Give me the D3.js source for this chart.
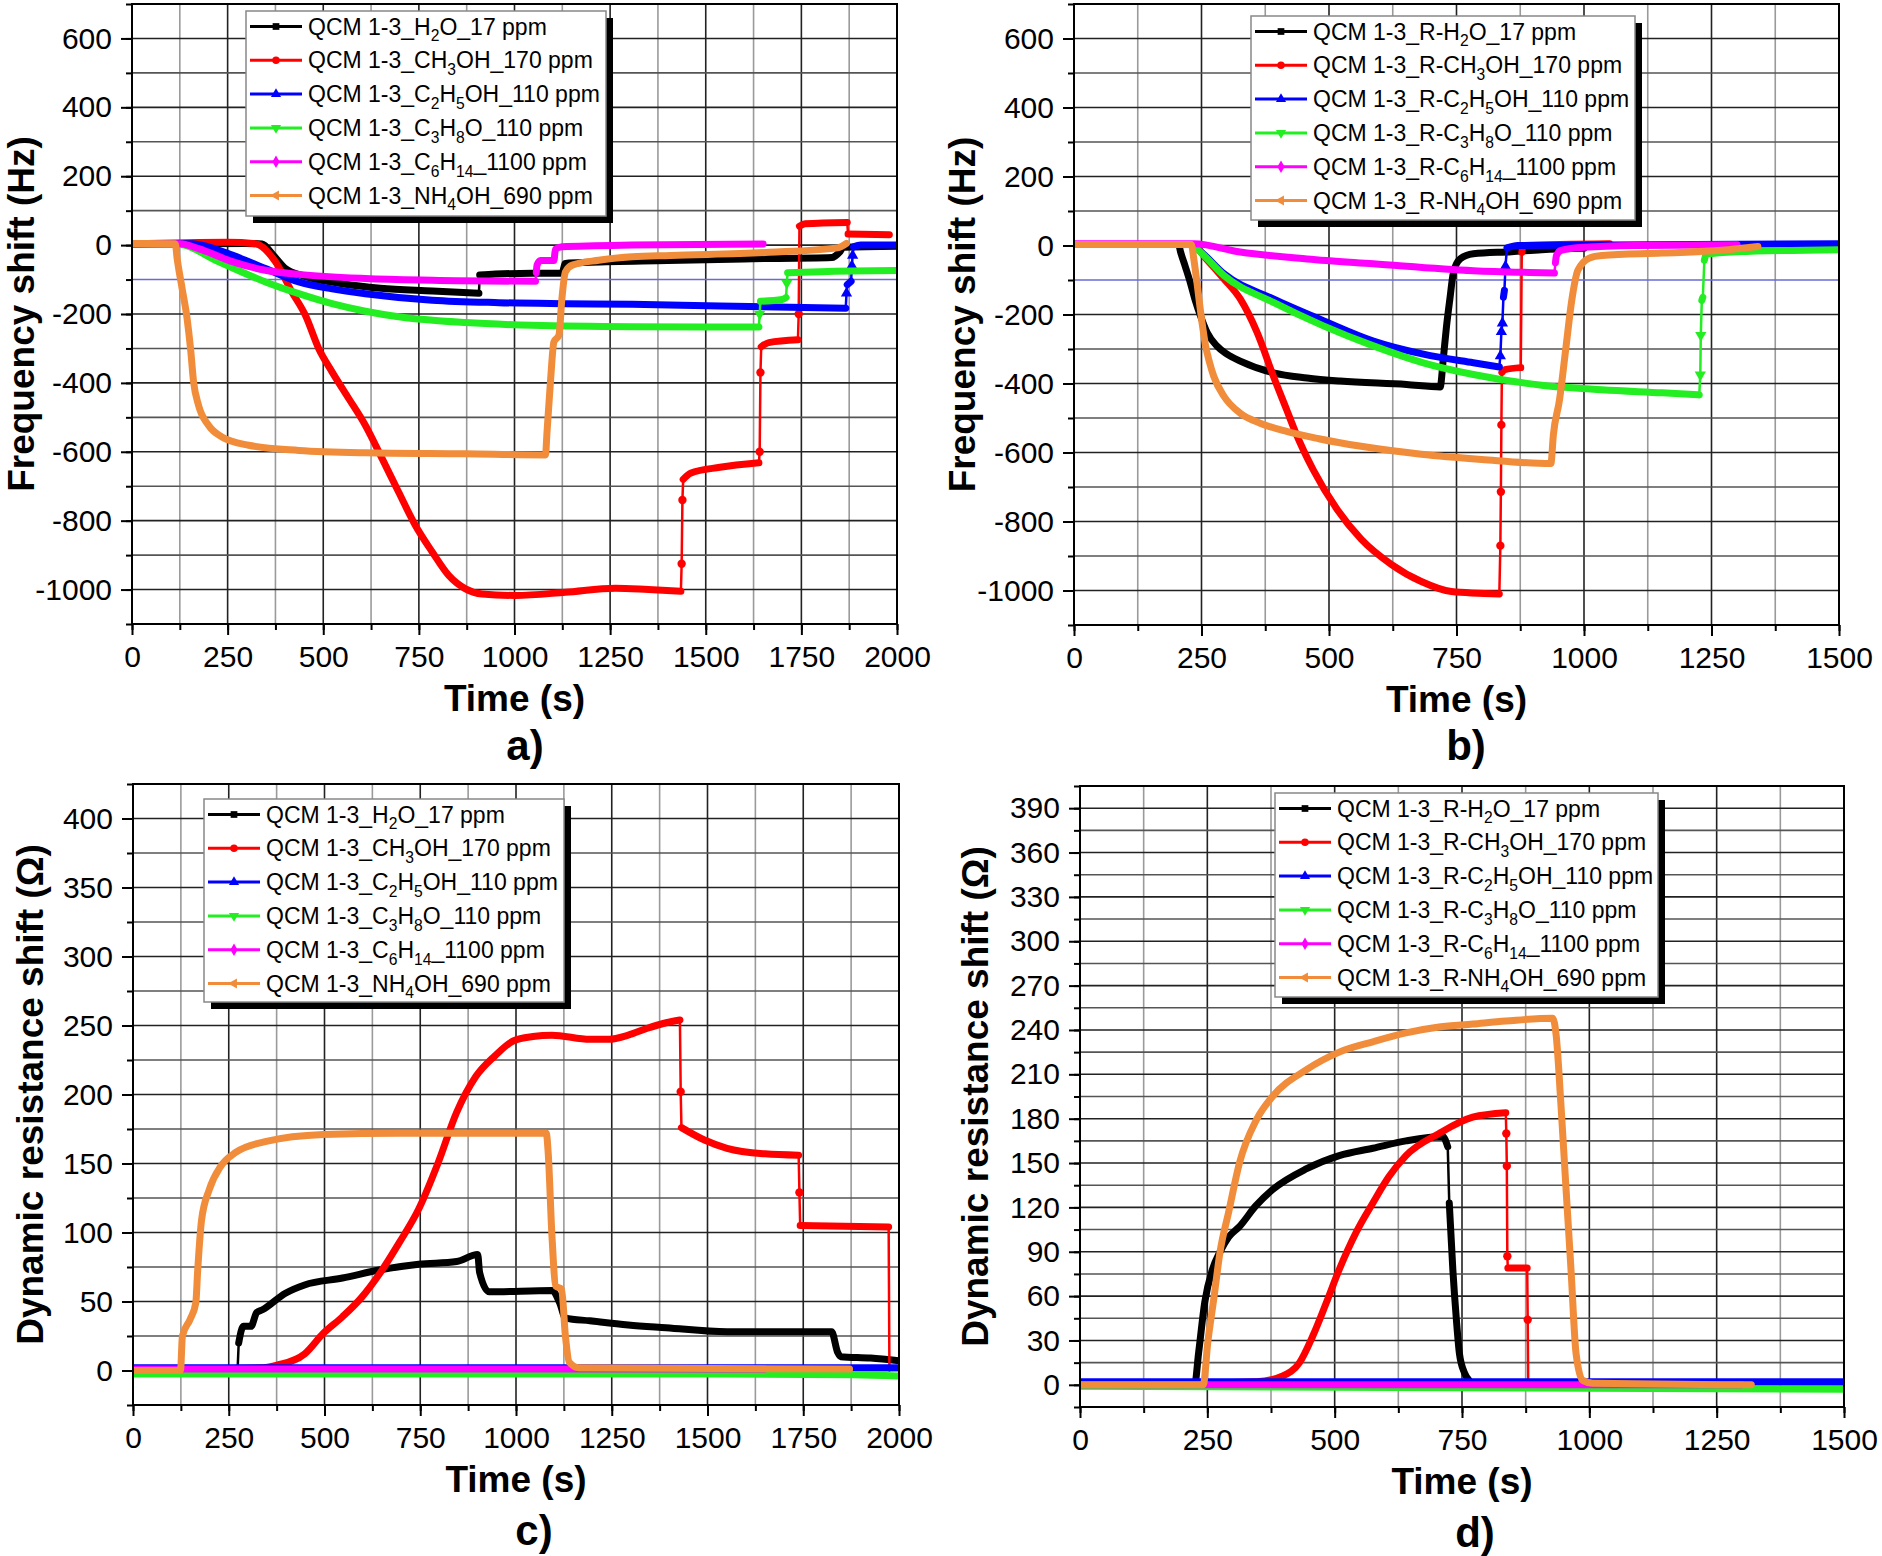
<!DOCTYPE html>
<html>
<head>
<meta charset="utf-8">
<script src="https://cdn.jsdelivr.net/npm/d3@7"></script>
<style>
  body { margin: 0; background: #fff; }
  text { font-family: Arial, "Liberation Sans", sans-serif; }
</style>
</head>
<body>
<svg id="chart" width="1882" height="1556"></svg>
<script>
// ---------- data: [time (s), value] ----------
// a) frequency shift, QCM 1-3
const aH2O = [[0,3],[300,5],[340,3],[370,-30],[401,-68],[450,-90],[550,-112],[650,-125],[785,-133],[907,-140],[909,-87],[950,-84],[1046,-82],[1124,-82],[1133,-53],[1200,-50],[1400,-45],[1600,-40],[1830,-36],[1850,-20],[1860,-6],[2000,-3]];
const aCH3OH = [[0,3],[250,8],[323,4],[375,-48],[418,-136],[453,-203],[488,-300],[523,-368],[567,-446],[610,-523],[654,-620],[697,-717],[741,-814],[785,-891],[828,-959],[872,-998],[915,-1013],[1002,-1017],[1133,-1008],[1264,-996],[1350,-1000],[1435,-1005],[1437,-925],[1439,-740],[1441,-680],[1460,-662],[1537,-645],[1639,-632],[1641,-600],[1643,-370],[1645,-295],[1665,-283],[1741,-275],[1743,-200],[1745,55],[1760,62],[1870,66],[1872,32],[1980,30]];
const aC2H5OH = [[0,3],[157,4],[200,-5],[262,-29],[349,-68],[436,-107],[523,-127],[610,-141],[785,-160],[959,-167],[1133,-170],[1308,-172],[1537,-177],[1866,-183],[1868,-140],[1870,-115],[1880,-105],[1882,-60],[1884,-30],[1886,-5],[1905,0],[2000,0]];
const aC3H8O = [[0,3],[126,2],[218,-44],[349,-107],[436,-141],[523,-170],[610,-192],[697,-208],[872,-225],[1046,-233],[1308,-237],[1639,-238],[1641,-200],[1643,-163],[1700,-158],[1710,-152],[1712,-110],[1714,-80],[1800,-77],[2000,-74]];
const aC6H14 = [[0,5],[126,4],[174,-10],[262,-48],[349,-73],[436,-85],[610,-97],[785,-102],[1055,-105],[1057,-80],[1059,-58],[1068,-45],[1103,-45],[1107,-12],[1124,-5],[1308,0],[1650,3]];
const aNH4OH = [[0,5],[113,4],[118,-39],[131,-126],[144,-213],[153,-300],[161,-397],[174,-465],[200,-523],[235,-557],[305,-581],[436,-596],[610,-603],[872,-606],[1081,-609],[1085,-543],[1094,-397],[1103,-281],[1116,-262],[1124,-155],[1133,-78],[1151,-58],[1220,-44],[1308,-34],[1409,-30],[1665,-21],[1845,-8],[1868,5]];

// b) frequency shift, QCM 1-3 R
const bH2O = [[0,3],[205,3],[209,-19],[218,-60],[228,-107],[238,-160],[248,-204],[261,-252],[280,-291],[300,-315],[326,-335],[391,-369],[457,-384],[522,-393],[652,-403],[718,-410],[724,-330],[730,-240],[737,-155],[744,-78],[757,-39],[783,-24],[858,-18],[917,-12],[1000,-8]];
const bCH3OH = [[0,3],[232,3],[260,-40],[294,-97],[326,-155],[359,-252],[391,-379],[417,-476],[434,-540],[469,-650],[516,-765],[563,-851],[622,-924],[681,-974],[740,-1003],[834,-1010],[836,-870],[837,-714],[838,-520],[839,-368],[845,-360],[876,-354],[878,-20],[881,0],[1050,5]];
const bC2H5OH = [[0,3],[230,3],[248,-17],[294,-82],[391,-155],[489,-218],[587,-277],[685,-315],[783,-340],[834,-352],[836,-320],[838,-250],[840,-225],[842,-150],[844,-130],[846,-60],[849,-7],[870,0],[1500,5]];
const bC3H8O = [[0,3],[230,3],[248,-19],[294,-87],[391,-165],[489,-233],[587,-291],[685,-340],[783,-374],[917,-405],[1035,-418],[1153,-427],[1226,-433],[1228,-375],[1229,-260],[1231,-159],[1233,-150],[1236,-43],[1240,-25],[1300,-18],[1500,-12]];
const bC6H14 = [[0,5],[235,5],[326,-19],[457,-39],[587,-53],[783,-73],[917,-79],[942,-80],[944,-50],[946,-29],[955,-14],[1000,-5],[1100,0],[1300,2]];
const bNH4OH = [[0,3],[230,3],[235,-40],[241,-107],[251,-223],[258,-291],[266,-340],[274,-379],[294,-437],[326,-486],[365,-515],[417,-539],[480,-560],[563,-582],[681,-605],[799,-620],[935,-632],[940,-548],[952,-447],[964,-303],[976,-159],[988,-72],[1011,-36],[1035,-29],[1153,-22],[1270,-14],[1341,-3]];

// c) dynamic resistance shift, QCM 1-3
const cH2O = [[0,0],[273,0],[276,20],[288,32],[308,32],[323,42],[338,44],[398,56],[448,62],[547,67],[646,73],[746,77],[845,79],[900,84],[905,71],[930,57],[1094,58],[1114,49],[1129,38],[1193,36],[1293,33],[1392,31],[1551,28],[1824,28],[1840,13],[1848,10],[1926,9],[2000,7]];
const cCH3OH = [[0,1],[340,2],[378,4],[448,12],[497,27],[547,39],[597,53],[646,71],[696,93],[746,117],[796,150],[845,187],[895,213],[945,228],[994,239],[1044,242],[1094,243],[1193,240],[1243,240],[1293,243],[1343,248],[1392,252],[1428,254],[1430,202],[1432,176],[1492,167],[1551,161],[1650,157],[1738,156],[1740,129],[1742,105],[1973,104],[1975,0]];
const cC2H5OH = [[0,2],[2000,2]];
const cC3H8O = [[0,-2.5],[1500,-2.5],[1880,-3],[2000,-4]];
const cC6H14 = [[0,1],[1650,1]];
const cNH4OH = [[0,0],[124,0],[129,25],[149,37],[164,49],[169,73],[179,109],[199,131],[229,148],[268,158],[348,166],[497,171],[696,172],[1079,172],[1084,158],[1094,97],[1104,61],[1119,59],[1129,25],[1139,6],[1164,2],[1871,1]];

// d) dynamic resistance shift, QCM 1-3 R
const dH2O = [[0,0],[225,0],[233,22],[245,56],[260,78],[275,90],[292,100],[313,107],[345,121],[378,132],[444,146],[509,155],[575,160],[640,165],[712,168],[722,161],[725,123],[732,78],[739,44],[745,21],[755,8],[764,3]];
const dCH3OH = [[0,0],[346,2],[398,6],[431,15],[457,33],[483,55],[509,78],[542,103],[575,123],[607,141],[640,155],[705,170],[771,181],[836,184],[837,170],[838,148],[839,87],[840,79],[878,79],[879,44],[880,0]];
const dC2H5OH = [[0,2],[1500,2]];
const dC3H8O = [[0,-1],[1500,-3]];
const dC6H14 = [[0,0],[1300,0]];
const dNH4OH = [[0,0],[242,0],[251,29],[263,59],[275,90],[292,117],[313,150],[346,179],[378,195],[444,213],[509,225],[575,232],[640,238],[705,242],[771,244],[836,246],[928,248],[935,236],[944,191],[954,134],[964,78],[974,21],[987,3],[1007,1],[1318,0]];

// legend labels ({n} = subscript)
const labelsPlain = ['QCM 1-3_H{2}O_17 ppm', 'QCM 1-3_CH{3}OH_170 ppm', 'QCM 1-3_C{2}H{5}OH_110 ppm',
                     'QCM 1-3_C{3}H{8}O_110 ppm', 'QCM 1-3_C{6}H{14}_1100 ppm', 'QCM 1-3_NH{4}OH_690 ppm'];
const labelsR = ['QCM 1-3_R-H{2}O_17 ppm', 'QCM 1-3_R-CH{3}OH_170 ppm', 'QCM 1-3_R-C{2}H{5}OH_110 ppm',
                 'QCM 1-3_R-C{3}H{8}O_110 ppm', 'QCM 1-3_R-C{6}H{14}_1100 ppm', 'QCM 1-3_R-NH{4}OH_690 ppm'];

const colors = ['#000000', '#ff0000', '#0000ff', '#22ee22', '#ff00ff', '#f08c3a'];
const symbols = ['square', 'circle', 'up', 'down', 'diamond', 'left'];

// ---------- layout ----------
const panels = [
  { series: [aH2O, aCH3OH, aC2H5OH, aC3H8O, aC6H14, aNH4OH], labels: labelsPlain,
    x0: 132, y0: 4, w: 765, h: 620, xMax: 2000, yDom: [-1100, 700], yMajor: 200, yMinor: 100,
    yTitle: 'Frequency shift (Hz)', titleX: 21, blueLine: -100,
    legend: { x: 246, y: 11, w: 360, h: 205 }, tag: 'a)', tagX: 525, tagY: 760 },
  { series: [bH2O, bCH3OH, bC2H5OH, bC3H8O, bC6H14, bNH4OH], labels: labelsR,
    x0: 1074, y0: 4, w: 765, h: 621, xMax: 1500, yDom: [-1100, 700], yMajor: 200, yMinor: 100,
    yTitle: 'Frequency shift (Hz)', titleX: 962, blueLine: -100,
    legend: { x: 1251, y: 16, w: 384, h: 204 }, tag: 'b)', tagX: 1466, tagY: 760 },
  { series: [cH2O, cCH3OH, cC2H5OH, cC3H8O, cC6H14, cNH4OH], labels: labelsPlain,
    x0: 133, y0: 784, w: 766, h: 621, xMax: 2000, yDom: [-25, 425], yMajor: 50, yMinor: 25,
    yTitle: 'Dynamic resistance shift (\u03a9)', titleX: 30, blueLine: null,
    legend: { x: 204, y: 799, w: 360, h: 203 }, tag: 'c)', tagX: 534, tagY: 1545 },
  { series: [dH2O, dCH3OH, dC2H5OH, dC3H8O, dC6H14, dNH4OH], labels: labelsR,
    x0: 1080, y0: 786, w: 764, h: 621, xMax: 1500, yDom: [-15, 405], yMajor: 30, yMinor: 15,
    yTitle: 'Dynamic resistance shift (\u03a9)', titleX: 975, blueLine: null,
    legend: { x: 1275, y: 793, w: 383, h: 204 }, tag: 'd)', tagX: 1475, tagY: 1547 }
];

const svg = d3.select('#chart');

function symbolPath(kind, size) {
  const types = { square: d3.symbolSquare, circle: d3.symbolCircle, up: d3.symbolTriangle,
                  down: d3.symbolTriangle, left: d3.symbolTriangle, diamond: d3.symbolDiamond };
  return d3.symbol().type(types[kind]).size(size)();
}
function symbolRot(kind) {
  return kind === 'down' ? 180 : kind === 'left' ? -90 : 0;
}

function richText(sel, str, size) {
  const parts = str.split(/\{(\d+)\}/);
  const shift = size * 0.3;
  let sub = false;
  parts.forEach((p, i) => {
    if (i % 2 === 1) {
      sel.append('tspan').attr('font-size', size * 0.68).attr('dy', shift).text(p);
      sub = true;
    } else if (p) {
      sel.append('tspan').attr('dy', sub ? -shift : 0).text(p);
      sub = false;
    }
  });
}

panels.forEach((p, pi) => {
  const x = d3.scaleLinear().domain([0, p.xMax]).range([p.x0, p.x0 + p.w]);
  const y = d3.scaleLinear().domain(p.yDom).range([p.y0 + p.h, p.y0]);
  const g = svg.append('g');

  const xMinor = d3.range(0, p.xMax + 1, 125);
  const xMajor = d3.range(0, p.xMax + 1, 250);
  const yMajor = d3.range(Math.ceil(p.yDom[0] / p.yMajor) * p.yMajor, p.yDom[1] + 1, p.yMajor);
  const yMinor = d3.range(p.yDom[0], p.yDom[1] + 1, p.yMinor);

  // grid
  const grid = g.append('g');
  grid.selectAll('line.vx').data(xMinor).enter().append('line')
    .attr('x1', d => x(d)).attr('x2', d => x(d)).attr('y1', p.y0).attr('y2', p.y0 + p.h)
    .attr('stroke', d => d % 250 === 0 ? '#222' : '#9a9a9a').attr('stroke-width', 1.6);
  grid.selectAll('line.hy').data(yMinor).enter().append('line')
    .attr('x1', p.x0).attr('x2', p.x0 + p.w).attr('y1', d => y(d)).attr('y2', d => y(d))
    .attr('stroke', d => d === p.blueLine ? '#6a6ad6' : (d % p.yMajor === 0 ? '#222' : '#555'))
    .attr('stroke-width', 1.6);

  // series
  const clipId = 'clip' + pi;
  g.append('clipPath').attr('id', clipId).append('rect')
    .attr('x', p.x0).attr('y', p.y0).attr('width', p.w).attr('height', p.h);
  const plot = g.append('g').attr('clip-path', 'url(#' + clipId + ')');
  const smooth = d3.line().x(d => x(d[0])).y(d => y(d[1])).curve(d3.curveMonotoneX);
  const straight = d3.line().x(d => x(d[0])).y(d => y(d[1]));

  p.series.forEach((data, si) => {
    // steep jumps (few seconds apart) are drawn thin with symbols, the rest as dense bands
    const runs = [];
    for (let i = 1; i < data.length; i++) {
      const thin = (data[i][0] - data[i - 1][0]) <= 3 && Math.abs(y(data[i][1]) - y(data[i - 1][1])) > 8;
      const last = runs[runs.length - 1];
      if (last && last.thin === thin) last.pts.push(data[i]);
      else runs.push({ thin: thin, pts: [data[i - 1], data[i]] });
    }
    const sg = plot.append('g');
    runs.forEach(r => {
      sg.append('path').attr('d', r.thin ? straight(r.pts) : smooth(r.pts))
        .attr('fill', 'none').attr('stroke', colors[si])
        .attr('stroke-width', r.thin ? 2.5 : 7)
        .attr('stroke-linejoin', 'round').attr('stroke-linecap', 'round');
      if (r.thin) {
        sg.selectAll(null).data(r.pts.slice(1, -1)).enter().append('path')
          .attr('d', symbolPath(symbols[si], 55))
          .attr('transform', d => 'translate(' + x(d[0]) + ',' + y(d[1]) + ') rotate(' + symbolRot(symbols[si]) + ')')
          .attr('fill', colors[si]);
      }
    });
  });

  // frame
  g.append('rect').attr('x', p.x0).attr('y', p.y0).attr('width', p.w).attr('height', p.h)
    .attr('fill', 'none').attr('stroke', '#000').attr('stroke-width', 2);

  // axes
  const styleAxis = a => {
    a.select('.domain').remove();
    a.selectAll('line').attr('stroke', '#000').attr('stroke-width', 2);
    a.selectAll('text').attr('font-size', 30).attr('fill', '#000')
      .style('font-family', 'Arial, "Liberation Sans", sans-serif');
  };
  g.append('g').attr('transform', 'translate(0,' + (p.y0 + p.h) + ')')
    .call(d3.axisBottom(x).tickValues(xMinor).tickSize(6).tickFormat('')).call(styleAxis);
  g.append('g').attr('transform', 'translate(0,' + (p.y0 + p.h) + ')')
    .call(d3.axisBottom(x).tickValues(xMajor).tickSize(11).tickPadding(11).tickFormat(d => String(d))).call(styleAxis);
  g.append('g').attr('transform', 'translate(' + p.x0 + ',0)')
    .call(d3.axisLeft(y).tickValues(yMinor).tickSize(6).tickFormat('')).call(styleAxis);
  g.append('g').attr('transform', 'translate(' + p.x0 + ',0)')
    .call(d3.axisLeft(y).tickValues(yMajor).tickSize(11).tickPadding(9).tickFormat(d => String(d))).call(styleAxis);

  // titles
  g.append('text').attr('x', p.x0 + p.w / 2).attr('y', p.y0 + p.h + 87)
    .attr('text-anchor', 'middle').attr('font-size', 37).attr('font-weight', 'bold').text('Time (s)');
  g.append('text')
    .attr('transform', 'translate(' + p.titleX + ',' + (p.y0 + p.h / 2) + ') rotate(-90)')
    .attr('dy', '0.36em').attr('text-anchor', 'middle')
    .attr('font-size', 37).attr('font-weight', 'bold').text(p.yTitle);
  g.append('text').attr('x', p.tagX).attr('y', p.tagY).attr('text-anchor', 'middle')
    .attr('font-size', 42).attr('font-weight', 'bold').text(p.tag);

  // legend
  const L = p.legend;
  const lg = g.append('g');
  lg.append('rect').attr('x', L.x + 7).attr('y', L.y + 7).attr('width', L.w).attr('height', L.h).attr('fill', '#000');
  lg.append('rect').attr('x', L.x).attr('y', L.y).attr('width', L.w).attr('height', L.h)
    .attr('fill', '#fff').attr('stroke', '#888').attr('stroke-width', 1.5);
  p.labels.forEach((lab, i) => {
    const cy = L.y + 15.5 + i * 33.8;
    lg.append('line').attr('x1', L.x + 4).attr('x2', L.x + 56).attr('y1', cy).attr('y2', cy)
      .attr('stroke', colors[i]).attr('stroke-width', 3);
    lg.append('path').attr('d', symbolPath(symbols[i], 45))
      .attr('transform', 'translate(' + (L.x + 30) + ',' + cy + ') rotate(' + symbolRot(symbols[i]) + ')')
      .attr('fill', colors[i]);
    const t = lg.append('text').attr('x', L.x + 62).attr('y', cy + 8).attr('font-size', 23).attr('fill', '#000');
    richText(t, lab, 23);
  });
});
</script>
</body>
</html>
